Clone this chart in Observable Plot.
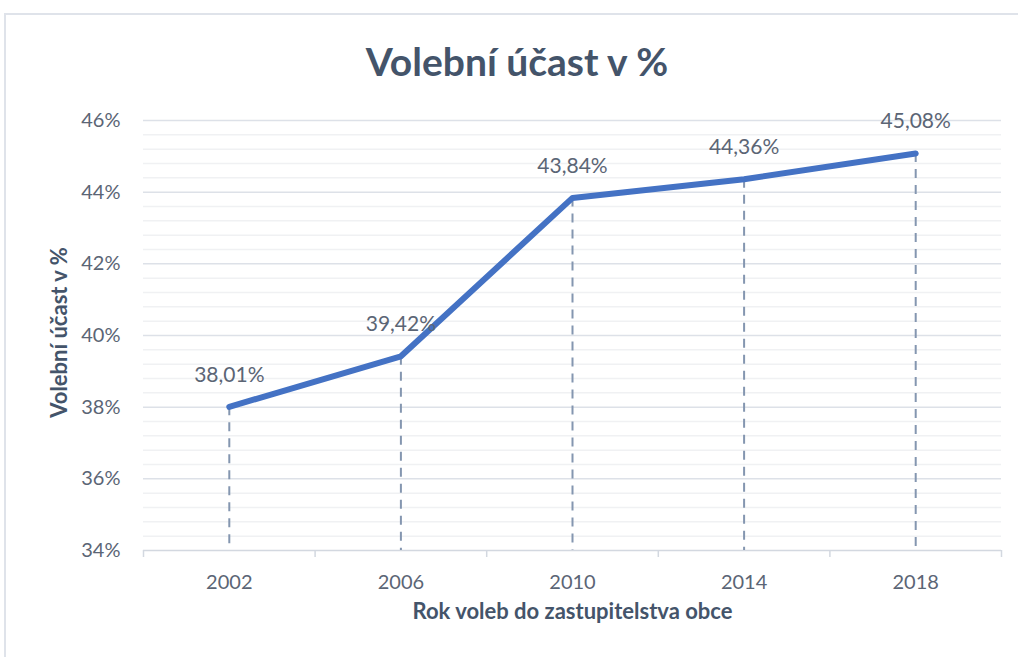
<!DOCTYPE html>
<html>
<head>
<meta charset="utf-8">
<script src="https://cdn.jsdelivr.net/npm/d3@7"></script>
<script src="https://cdn.jsdelivr.net/npm/@observablehq/plot@0.6"></script>
<style>
  html, body { margin: 0; padding: 0; background: #fff; }
  #wrap { position: relative; width: 1018px; height: 657px; overflow: hidden; background: #fff; }
  #frame { position: absolute; left: 4px; top: 13px; width: 1030px; height: 700px; border: 2px solid #dfe3ea; box-sizing: border-box; }
  #title { position: absolute; left: 0; top: 37px; width: 1034px; text-align: center; font-family: Lato, "Open Sans", sans-serif; font-weight: 700; font-size: 39px; color: #44546a; line-height: 48px; }
  #chart { position: absolute; left: 0; top: 0; }
</style>
</head>
<body>
<div id="wrap">
  <div id="frame"></div>
  <div id="chart"></div>
  <div id="title">Volební účast v %</div>
</div>
<script>
// Data
const years = [2002, 2006, 2010, 2014, 2018];
const turnout = [38.01, 39.42, 43.84, 44.36, 45.08];
const yTicks = [34, 36, 38, 40, 42, 44, 46];
const xBoundaries = [2000, 2004, 2008, 2012, 2016, 2020];
const yMinor = d3.range(34, 46.001, 0.4).map(v => +v.toFixed(1)).filter(v => Math.abs(v % 2) > 0.01 && Math.abs(v % 2 - 2) > 0.01);
const xTitle = "Rok voleb do zastupitelstva obce";
const yTitle = "Volební účast v %";

const data = years.map((y, i) => ({year: y, value: turnout[i]}));
const fmt = v => v.toFixed(2).replace(".", ",") + "%";

const font = "Lato, 'Open Sans', sans-serif";
const labelColor = "#5b6575";

const chart = Plot.plot({
  width: 1018,
  height: 657,
  marginTop: 120,
  marginBottom: 107,
  marginLeft: 143,
  marginRight: 17,
  style: {fontFamily: font, background: "transparent", overflow: "visible"},
  x: {type: "linear", domain: [2000, 2020], axis: null},
  y: {domain: [34, 46], axis: null},
  marks: [
    Plot.ruleY(yMinor, {stroke: "#f0f1f3", strokeWidth: 1.5}),
    Plot.ruleY(yTicks.filter(d => d !== 34), {stroke: "#dde1e8", strokeWidth: 1.5}),
    Plot.ruleY([34], {stroke: "#d3d8e0", strokeWidth: 1.5}),
    Plot.axisX(xBoundaries, {anchor: "bottom", tickSize: 7, tickFormat: () => "", stroke: "#d3d8e0", strokeWidth: 1.5, label: null}),
    Plot.axisX(years, {anchor: "bottom", tickSize: 0, tickPadding: 24, tickFormat: d => String(d), fontSize: 20, fill: labelColor, label: null}),
    Plot.axisY(yTicks, {anchor: "left", tickSize: 0, tickPadding: 23, tickFormat: d => d + "%", fontSize: 20, fill: labelColor, label: null}),
    Plot.ruleX(data, {x: "year", y1: "value", y2: 34, stroke: "#8496b0", strokeWidth: 2, strokeDasharray: "9,7"}),
    Plot.line(data, {x: "year", y: "value", stroke: "#4472c4", strokeWidth: 6, strokeLinecap: "round", strokeLinejoin: "round"}),
    Plot.text(data, {x: "year", y: "value", text: d => fmt(d.value), dy: -32, fontSize: 21, fill: labelColor}),
    Plot.text([yTitle], {frameAnchor: "left", textAnchor: "middle", rotate: -90, dx: -84, dy: -3, fontSize: 22, fontWeight: 700, fill: "#44546a"}),
    Plot.text([xTitle], {frameAnchor: "bottom", textAnchor: "middle", dy: 68, fontSize: 22, fontWeight: 700, fill: "#44546a"})
  ]
});
document.getElementById("chart").appendChild(chart);
</script>
</body>
</html>
